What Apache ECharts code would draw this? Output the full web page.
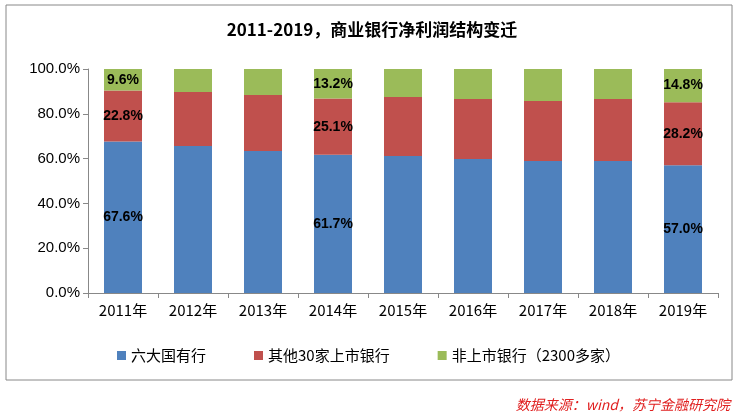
<!DOCTYPE html>
<html><head><meta charset="utf-8">
<script src="https://cdn.jsdelivr.net/npm/echarts@6/dist/echarts.min.js"></script>
<style>html,body{margin:0;padding:0;background:#fff}#c{width:744px;height:418px}</style>
</head><body><div id="c"></div>
<script>
var categories=['2011年','2012年','2013年','2014年','2015年','2016年','2017年','2018年','2019年'];
var seriesNames=['六大国有行','其他30家上市银行','非上市银行（2300多家）'];
var big6=[67.6,65.6,63.4,61.7,61.2,59.8,58.9,58.9,57.0];
var other30=[22.8,24.1,25.0,25.1,26.3,26.8,26.8,27.7,28.2];
var unlisted=[9.6,10.3,11.6,13.2,12.5,13.4,14.3,13.4,14.8];
var labeledIdx=[0,3,8];
var colors=['#4F81BD','#C0504D','#9BBB59'];
function mk(arr){return arr.map(function(v,i){return {value:v,label:{show:labeledIdx.indexOf(i)>=0}};});}
var chart=echarts.init(document.getElementById('c'));
var font='"Noto Sans CJK SC", sans-serif';
chart.setOption({
 animation:false,
 graphic:[{type:'rect',shape:{x:6,y:5,width:726,height:375},style:{fill:'none',stroke:'#888',lineWidth:1}},
  {type:'text',right:14,top:398,style:{text:'数据来源：wind，苏宁金融研究院',fill:'#E02020',font:'italic 14px '+font}}],
 title:{text:'2011-2019，商业银行净利润结构变迁',left:'center',top:16,textStyle:{fontSize:17,fontWeight:'bold',color:'#000',fontFamily:font}},
 legend:{bottom:50,left:112,itemWidth:9,itemHeight:9,itemGap:48,icon:'rect',textStyle:{fontSize:15,color:'#000',fontFamily:font},data:seriesNames},
 grid:{left:88,right:26,top:69,bottom:125},
 xAxis:{type:'category',data:categories,axisLine:{lineStyle:{color:'#888'}},axisTick:{show:true,lineStyle:{color:'#888'}},axisLabel:{fontSize:15,color:'#000',fontFamily:font,margin:10}},
 yAxis:{type:'value',min:0,max:100,interval:20,axisLine:{show:true,lineStyle:{color:'#888'}},axisTick:{show:true,lineStyle:{color:'#888'}},splitLine:{show:false},axisLabel:{fontSize:15,color:'#000',formatter:function(v){return v.toFixed(1)+'%';}}},
 series:[big6,other30,unlisted].map(function(a,k){return {name:seriesNames[k],type:'bar',stack:'s',barWidth:38,itemStyle:{color:colors[k]},
  label:{position:'inside',fontSize:14,fontWeight:'bold',color:'#000',formatter:function(p){return p.value.toFixed(1)+'%';}},data:mk(a)};})
});
</script></body></html>
